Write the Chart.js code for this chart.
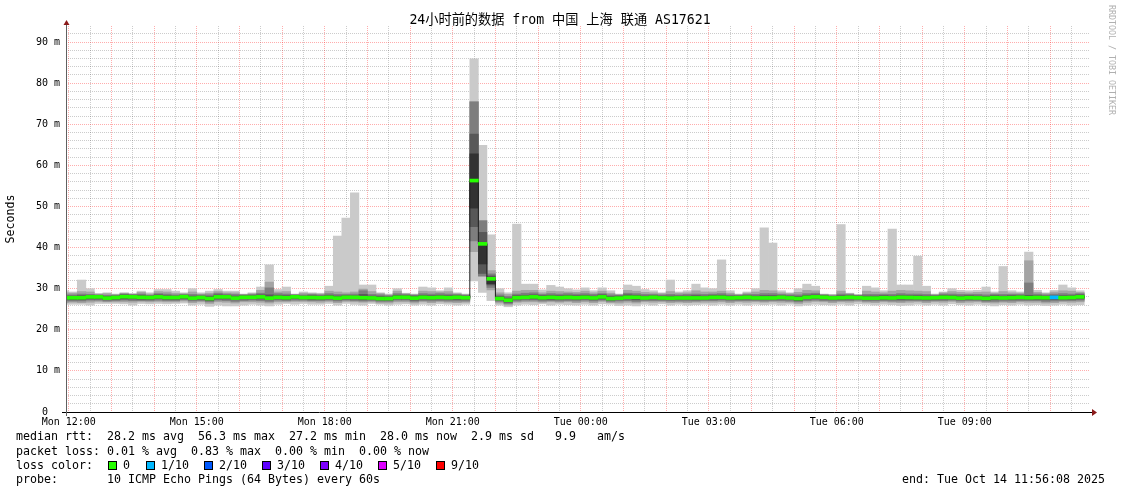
<!DOCTYPE html>
<html><head><meta charset="utf-8">
<script src="https://cdn.jsdelivr.net/npm/chart.js@4.4.1/dist/chart.umd.min.js"></script>
<style>
html,body{margin:0;padding:0;background:#fff;}
canvas{display:block;}
</style></head><body>
<canvas id="c" width="1121" height="494"></canvas>
<script>
// ---------- text / labels ----------
const TITLE = '24小时前的数据 from 中国 上海 联通 AS17621';
const Y_TITLE = 'Seconds';
const WATERMARK = 'RRDTOOL / TOBI OETIKER';
const xTickMinutes = [0, 180, 360, 540, 720, 900, 1080, 1260];
const xTickLabels = ['Mon 12:00','Mon 15:00','Mon 18:00','Mon 21:00','Tue 00:00','Tue 03:00','Tue 06:00','Tue 09:00'];
const yTickValues = [0, 10, 20, 30, 40, 50, 60, 70, 80, 90];
const yTickLabels = ['0  ','10 m','20 m','30 m','40 m','50 m','60 m','70 m','80 m','90 m'];
const legendRtt = 'median rtt:  28.2 ms avg  56.3 ms max  27.2 ms min  28.0 ms now  2.9 ms sd   9.9   am/s';
const legendLoss = 'packet loss: 0.01 % avg  0.83 % max  0.00 % min  0.00 % now';
const legendProbe = 'probe:       10 ICMP Echo Pings (64 Bytes) every 60s';
const legendEnd = 'end: Tue Oct 14 11:56:08 2025';
const lossLabels = ['0','1/10','2/10','3/10','4/10','5/10','9/10'];
const lossLevels = [0, 1, 2, 3, 4, 5, 9];
const lossColorList = ['#26ff00','#00b8ff','#0059ff','#5e00ff','#7e00ff','#dd00ff','#ff0000'];

// ---------- data: 120 slots of 12 minutes, first slot starts 11:48 Mon ----------
const SLOT_MIN = 12;
const FIRST_SLOT_START = -12; // minutes relative to Mon 12:00
const VIEW_START = -3.8667;   // 11:56:08
const VIEW_END = 1436.1333;   // 11:56:08 next day

// sorted pings per slot (ms): pingMin = 1st, ping2 .. ping9, pingMax = 10th
const pingMin = [
26.2,26.2,26.2,26.0,26.4,26.4,26.4,26.3,26.0,26.4,
26.3,26.4,26.3,26.4,26.5,26.0,26.2,25.7,26.0,25.8,
25.8,26.0,26.2,26.0,25.8,26.2,26.4,26.2,26.4,26.2,
26.2,26.4,26.0,26.4,26.2,26.0,26.4,26.2,26.0,26.2,
26.3,26.0,26.2,26.0,26.3,26.2,26.0,26.2,31.9,29.1,
27.1,26.0,25.6,26.0,26.2,26.1,26.3,26.0,26.2,26.1,
26.0,26.2,26.0,26.3,26.2,25.9,26.0,25.8,26.2,26.0,
26.3,26.0,26.2,26.0,26.1,26.2,26.0,26.2,26.0,26.2,
26.0,26.2,26.1,26.2,26.0,26.2,25.8,26.0,26.2,26.1,
26.0,26.2,26.0,26.3,26.2,26.0,26.2,26.1,25.9,26.0,
26.2,26.0,26.2,26.0,26.3,26.1,26.0,26.2,26.0,25.8,
26.1,26.0,26.2,26.0,26.1,25.9,26.0,26.2,26.0,26.1];
const ping2 = [
26.6,26.7,26.6,26.7,26.9,26.8,26.8,26.8,26.7,26.9,
26.8,26.9,26.8,26.8,27.0,26.6,26.8,26.4,26.8,26.7,
26.5,26.8,26.8,26.7,26.5,26.8,26.8,26.9,26.9,26.8,
26.7,26.9,26.6,26.9,26.8,26.7,26.8,26.5,26.5,26.8,
26.8,26.5,26.8,26.6,26.8,26.7,26.6,26.7,39.0,33.0,
29.7,26.5,26.0,26.7,26.8,26.8,26.7,26.8,26.7,26.8,
26.6,26.8,26.6,26.9,26.6,26.5,26.7,26.5,26.8,26.7,
26.8,26.6,26.7,26.6,26.7,26.7,26.7,26.8,26.6,26.8,
26.7,26.8,26.7,26.8,26.7,26.7,26.4,26.7,26.9,26.8,
26.6,26.8,26.7,26.9,26.7,26.6,26.8,26.7,26.6,26.7,
26.8,26.6,26.8,26.7,26.9,26.6,26.7,26.8,26.6,26.5,
26.7,26.6,26.8,26.7,26.7,26.5,26.6,26.8,26.7,26.8];
const ping3 = [
27.0,27.0,27.0,27.2,27.2,27.0,27.1,27.2,27.1,27.1,
27.1,27.2,27.1,27.1,27.3,27.0,27.1,26.8,27.2,27.1,
26.9,27.1,27.2,27.1,26.9,27.2,27.1,27.2,27.2,27.1,
27.1,27.2,27.0,27.2,27.1,27.0,27.1,26.9,26.9,27.2,
27.2,26.9,27.1,27.0,27.1,27.0,27.0,27.0,41.6,33.1,
30.3,26.9,26.4,27.0,27.2,27.2,27.0,27.1,27.0,27.1,
27.0,27.2,27.0,27.2,26.9,27.0,27.1,26.9,27.1,27.1,
27.1,27.0,27.0,27.0,27.0,27.1,27.1,27.2,27.0,27.1,
27.1,27.1,27.0,27.1,27.1,27.0,26.8,27.1,27.2,27.1,
27.0,27.1,27.1,27.2,27.0,27.0,27.1,27.0,27.0,27.1,
27.1,27.0,27.1,27.1,27.2,27.0,27.1,27.1,26.9,26.9,
27.0,27.0,27.1,27.1,27.1,26.9,27.0,27.1,27.1,27.2];
const ping4 = [
27.3,27.3,27.3,27.5,27.5,27.3,27.4,27.5,27.5,27.4,
27.4,27.6,27.4,27.4,27.6,27.3,27.4,27.1,27.5,27.5,
27.3,27.5,27.5,27.5,27.3,27.5,27.4,27.6,27.5,27.4,
27.4,27.5,27.3,27.5,27.5,27.3,27.4,27.2,27.2,27.5,
27.5,27.2,27.5,27.4,27.5,27.4,27.4,27.4,45.1,33.7,
30.9,27.2,26.7,27.4,27.5,27.5,27.4,27.4,27.4,27.5,
27.4,27.5,27.3,27.5,27.2,27.3,27.5,27.3,27.4,27.5,
27.4,27.3,27.4,27.4,27.3,27.4,27.5,27.5,27.4,27.4,
27.5,27.4,27.4,27.4,27.5,27.4,27.1,27.5,27.6,27.5,
27.4,27.4,27.5,27.5,27.3,27.3,27.4,27.4,27.4,27.4,
27.4,27.3,27.4,27.5,27.5,27.3,27.4,27.4,27.2,27.3,
27.4,27.4,27.5,27.4,27.4,27.3,27.4,27.4,27.4,27.5];
const ping5 = [
27.6,27.6,27.6,27.8,27.8,27.5,27.7,27.8,27.8,27.7,
27.7,27.8,27.7,27.7,27.9,27.5,27.7,27.4,27.8,27.8,
27.5,27.7,27.7,27.8,27.5,27.7,27.6,27.8,27.7,27.7,
27.6,27.7,27.5,27.7,27.7,27.6,27.6,27.4,27.4,27.7,
27.7,27.5,27.7,27.6,27.7,27.6,27.7,27.6,49.6,36.0,
31.2,27.4,27.0,27.6,27.7,27.8,27.6,27.7,27.6,27.7,
27.6,27.7,27.6,27.8,27.4,27.5,27.7,27.6,27.6,27.7,
27.6,27.5,27.6,27.6,27.6,27.6,27.7,27.7,27.6,27.6,
27.7,27.6,27.6,27.6,27.7,27.6,27.4,27.7,27.8,27.7,
27.6,27.6,27.7,27.6,27.5,27.5,27.6,27.6,27.7,27.7,
27.6,27.6,27.6,27.7,27.7,27.5,27.6,27.6,27.5,27.6,
27.6,27.6,27.7,27.6,27.7,27.6,27.7,27.6,27.7,27.8];
const ping6 = [
28.0,28.0,28.0,28.2,28.2,27.9,28.0,28.3,28.2,28.1,
28.0,28.2,28.0,28.0,28.2,27.9,28.0,27.8,28.2,28.2,
27.9,28.1,28.1,28.2,27.9,28.1,28.0,28.2,28.0,28.0,
28.0,28.1,27.9,28.1,28.1,28.0,27.9,27.8,27.8,28.1,
28.1,27.9,28.1,28.0,28.1,28.0,28.1,28.0,62.8,41.0,
32.4,27.8,27.4,28.0,28.1,28.2,28.0,28.1,28.0,28.1,
28.0,28.1,27.9,28.2,27.8,27.9,28.1,28.1,27.9,28.1,
27.9,27.9,27.9,27.9,27.9,27.9,28.1,28.1,27.9,28.0,
28.1,27.9,27.9,27.9,28.1,27.9,27.8,28.1,28.2,28.1,
27.9,28.0,28.1,28.0,27.9,27.9,28.0,27.9,28.1,28.0,
28.0,27.9,28.0,28.1,28.0,27.9,28.0,27.9,27.8,28.0,
27.9,28.0,28.1,28.0,28.0,28.0,28.1,28.0,28.0,28.2];
const ping7 = [
28.2,28.2,28.3,28.4,28.3,28.1,28.2,28.5,28.4,28.4,
28.2,28.5,28.3,28.2,28.4,28.2,28.2,28.1,28.5,28.4,
28.2,28.3,28.3,28.5,28.5,28.4,28.3,28.4,28.2,28.3,
28.2,28.4,28.2,28.3,28.3,28.6,28.2,28.1,28.0,28.4,
28.3,28.2,28.4,28.3,28.4,28.3,28.3,28.2,67.6,43.7,
33.1,28.1,27.7,28.3,28.4,28.5,28.3,28.4,28.3,28.4,
28.3,28.4,28.2,28.5,28.1,28.2,28.5,28.4,28.2,28.3,
28.2,28.2,28.2,28.2,28.3,28.2,28.4,28.4,28.2,28.2,
28.3,28.2,28.3,28.3,28.3,28.2,28.1,28.4,28.5,28.3,
28.1,28.3,28.3,28.2,28.2,28.2,28.3,28.2,28.4,28.3,
28.3,28.2,28.2,28.4,28.3,28.2,28.3,28.2,28.1,28.3,
28.2,28.3,28.3,28.4,28.3,28.2,28.3,28.3,28.3,28.5];
const ping8 = [
28.5,28.5,28.7,28.6,28.5,28.4,28.4,28.7,28.6,28.7,
28.4,28.8,28.7,28.5,28.6,28.6,28.5,28.5,28.9,28.7,
28.6,28.5,28.6,28.9,30.2,28.8,28.7,28.5,28.5,28.6,
28.5,28.8,28.6,28.6,28.7,29.5,28.6,28.5,28.3,28.8,
28.6,28.4,28.8,28.7,28.8,28.7,28.6,28.4,75.4,46.5,
33.6,28.5,28.1,28.7,28.9,29.0,28.6,28.8,28.7,28.8,
28.7,28.8,28.6,28.8,28.5,28.4,28.9,28.8,28.6,28.6,
28.5,28.6,28.5,28.6,28.7,28.6,28.7,28.8,28.5,28.4,
28.6,28.6,28.8,28.8,28.6,28.5,28.5,28.8,28.9,28.5,
28.3,28.7,28.6,28.4,28.6,28.6,28.6,28.6,28.8,28.7,
28.7,28.6,28.4,28.7,28.7,28.6,28.6,28.6,28.5,28.6,
28.6,28.6,28.6,31.4,28.7,28.5,28.7,28.8,28.7,28.8];
const ping9 = [
29.0,28.9,29.3,29.2,28.7,28.8,28.6,28.9,28.7,29.1,
28.7,29.3,29.2,28.9,28.8,29.2,28.7,28.9,29.3,29.0,
29.0,28.6,28.8,29.6,31.6,29.2,29.3,28.6,28.9,28.8,
28.7,29.4,29.2,29.0,29.2,29.9,29.3,28.8,28.5,29.4,
28.8,28.6,29.4,29.3,29.2,29.3,28.8,28.6,75.6,46.6,
34.4,29.0,28.6,29.4,29.6,29.6,29.0,29.4,29.3,29.2,
29.1,29.4,29.0,29.4,28.9,28.6,29.6,29.4,29.1,29.0,
28.8,29.3,28.9,29.0,29.5,29.2,29.2,29.4,28.9,28.6,
28.9,29.2,29.6,29.5,29.0,28.8,29.1,29.6,29.5,28.6,
28.5,29.4,28.8,28.5,29.4,29.2,29.0,29.4,29.6,29.5,
29.4,29.3,28.6,29.0,29.3,29.1,29.0,29.1,29.2,28.9,
29.3,29.0,28.9,36.8,29.1,28.8,29.2,29.5,29.4,29.1];
const pingMax = [
29.5,29.2,32.1,30.0,28.8,29.0,28.7,29.0,28.8,29.4,
29.0,29.8,29.8,29.4,29.0,30.0,29.0,29.4,29.8,29.4,
29.4,28.7,29.0,30.4,35.8,29.8,30.4,28.7,29.2,29.0,
28.9,30.6,42.8,47.2,53.3,30.9,30.9,29.0,28.7,30.0,
28.9,28.7,30.4,30.2,29.5,30.2,29.0,28.7,85.9,64.9,
43.1,30.0,29.0,45.7,31.1,31.1,29.7,30.8,30.4,30.0,
29.7,30.2,29.5,30.2,29.5,28.7,30.9,30.6,29.8,29.5,
29.0,32.1,29.2,29.5,31.1,30.2,30.0,37.0,29.5,28.7,
29.2,30.0,44.8,41.1,29.5,29.0,30.0,31.1,30.6,28.7,
28.6,45.6,28.9,28.5,30.6,30.2,29.5,44.5,30.9,30.9,
37.9,30.6,28.7,29.2,30.0,29.6,29.5,29.6,30.4,29.2,
35.4,29.5,29.2,38.9,29.6,29.0,29.6,30.9,30.2,29.5];
const medianRtt = [
27.8,27.8,27.8,28.0,28.0,27.7,27.85,28.05,28.0,27.9,
27.85,28.0,27.85,27.85,28.05,27.7,27.85,27.6,28.0,28.0,
27.7,27.9,27.9,28.0,27.7,27.9,27.8,28.0,27.85,27.85,
27.8,27.9,27.7,27.9,27.9,27.8,27.75,27.6,27.6,27.9,
27.9,27.7,27.9,27.8,27.9,27.8,27.9,27.8,56.3,40.9,
32.4,27.6,27.2,27.8,27.9,28.0,27.8,27.9,27.8,27.9,
27.8,27.9,27.75,28.0,27.6,27.7,27.9,27.9,27.75,27.9,
27.75,27.7,27.75,27.75,27.75,27.75,27.9,27.9,27.75,27.8,
27.9,27.75,27.75,27.75,27.9,27.75,27.6,27.9,28.0,27.9,
27.75,27.8,27.9,27.8,27.7,27.7,27.8,27.75,27.9,27.85,
27.8,27.75,27.8,27.9,27.85,27.7,27.8,27.75,27.65,27.8,
27.75,27.8,27.9,27.8,27.85,27.8,27.9,27.8,27.85,28.0];
// lost pings out of 10 per slot
const lossCount = [
0,0,0,0,0,0,0,0,0,0, 0,0,0,0,0,0,0,0,0,0,
0,0,0,0,0,0,0,0,0,0, 0,0,0,0,0,0,0,0,0,0,
0,0,0,0,0,0,0,0,0,0, 0,0,0,0,0,0,0,0,0,0,
0,0,0,0,0,0,0,0,0,0, 0,0,0,0,0,0,0,0,0,0,
0,0,0,0,0,0,0,0,0,0, 0,0,0,0,0,0,0,0,0,0,
0,0,0,0,0,0,0,0,0,0, 0,0,0,0,0,0,1,0,0,0];

// ---------- build ----------
const FONT = '"DejaVu Sans Mono", "Noto Sans CJK SC", monospace';
const N = medianRtt.length;
const slotStart = i => FIRST_SLOT_START + i * SLOT_MIN;
const slotCenter = i => slotStart(i) + SLOT_MIN / 2;
const lossColor = n => lossColorList[lossLevels.indexOf(n)] || '#ff0000';

const bandLows  = [pingMin, ping2, ping3, ping4, ping5];
const bandHighs = [pingMax, ping9, ping8, ping7, ping6];
const bandColors = ['#cacaca', '#a4a4a4', '#7e7e7e', '#585858', '#323232'];
const MEDIAN_HALF = 0.365; // half thickness of the median marker in ms (3px)

const datasets = [];
bandLows.forEach((lows, b) => {
  datasets.push({
    type: 'bar',
    data: lows.map((lo, i) => ({ x: slotCenter(i), y: [lo, bandHighs[b][i]] })),
    backgroundColor: bandColors[b],
    borderWidth: 0,
    grouped: false,
    barPercentage: 1,
    categoryPercentage: 1,
    order: 10 - b
  });
});
const medLine = medianRtt.map((m, i) => ({ x: slotStart(i), y: m }));
medLine.push({ x: slotStart(N), y: medianRtt[N - 1] });
datasets.push({
  type: 'line', data: medLine, stepped: 'before', borderColor: '#202020',
  borderWidth: 1, pointRadius: 0, fill: false, order: 2
});
datasets.push({
  type: 'bar',
  data: medianRtt.map((m, i) => ({ x: slotCenter(i), y: [m - MEDIAN_HALF, m + MEDIAN_HALF] })),
  backgroundColor: lossCount.map(lossColor),
  borderWidth: 0, grouped: false, barPercentage: 1, categoryPercentage: 1, order: 0
});

const RED = 'rgba(255,0,0,0.32)';
const GRAY = 'rgba(0,0,0,0.2)';
const xGrid = []; for (let m = 0; m < VIEW_END; m += 30) xGrid.push(m);
const yGrid = []; for (let v = 0; v <= 92; v += 2) yGrid.push(v);

const decor = {
  id: 'decor',
  afterDraw(chart) {
    const ctx = chart.ctx, a = chart.chartArea;
    ctx.save();
    // axes
    ctx.strokeStyle = '#000'; ctx.lineWidth = 1;
    ctx.beginPath(); ctx.moveTo(62, a.bottom + 0.5); ctx.lineTo(a.right + 2, a.bottom + 0.5); ctx.stroke();
    ctx.strokeStyle = '#606060';
    ctx.beginPath(); ctx.moveTo(a.left + 0.5, a.bottom + 4); ctx.lineTo(a.left + 0.5, a.top - 2); ctx.stroke();
    ctx.fillStyle = '#8b1a1a';
    ctx.beginPath(); ctx.moveTo(a.right + 2, a.bottom - 3); ctx.lineTo(a.right + 7, a.bottom + 0.5); ctx.lineTo(a.right + 2, a.bottom + 4); ctx.closePath(); ctx.fill();
    ctx.beginPath(); ctx.moveTo(a.left - 2.5, a.top - 1); ctx.lineTo(a.left + 0.5, a.top - 6); ctx.lineTo(a.left + 3.5, a.top - 1); ctx.closePath(); ctx.fill();
    // title
    ctx.fillStyle = '#000';
    ctx.font = '13.2px ' + FONT; ctx.textAlign = 'center'; ctx.textBaseline = 'middle';
    ctx.fillText(TITLE, 560, 21);
    // y title
    ctx.save(); ctx.translate(11, 219); ctx.rotate(-Math.PI / 2);
    ctx.font = '11.6px ' + FONT; ctx.fillText(Y_TITLE, 0, 0); ctx.restore();
    // watermark
    ctx.save(); ctx.translate(1111, 5); ctx.rotate(Math.PI / 2);
    ctx.font = '8.3px ' + FONT; ctx.fillStyle = '#b0b0b0'; ctx.textAlign = 'left';
    ctx.fillText(WATERMARK, 0, 0); ctx.restore();
    // legend
    ctx.font = '11.63px ' + FONT; ctx.textAlign = 'left'; ctx.fillStyle = '#000';
    ctx.fillText(legendRtt, 16, 437);
    ctx.fillText(legendLoss, 16, 452);
    ctx.fillText('loss color:', 16, 466);
    const boxX = [108, 146, 204, 262, 320, 378, 436];
    lossLabels.forEach((lab, i) => {
      ctx.fillStyle = lossColorList[i];
      ctx.fillRect(boxX[i], 461, 9, 9);
      ctx.strokeStyle = '#000'; ctx.strokeRect(boxX[i] + 0.5, 461.5, 8, 8);
      ctx.fillStyle = '#000';
      ctx.fillText(lab, boxX[i] + 15, 466);
    });
    ctx.fillText(legendProbe, 16, 480);
    ctx.textAlign = 'right';
    ctx.fillText(legendEnd, 1105, 480);
    ctx.restore();
  }
};

new Chart(document.getElementById('c'), {
  type: 'bar',
  data: { datasets },
  options: {
    responsive: false, animation: false, devicePixelRatio: 1,
    layout: { padding: { top: 26, right: 31, left: 0, bottom: 0 } },
    plugins: { legend: { display: false }, tooltip: { enabled: false }, title: { display: false } },
    scales: {
      x: {
        type: 'linear', min: VIEW_START, max: VIEW_END, offset: false,
        afterBuildTicks(axis) { axis.ticks = xGrid.map(v => ({ value: v })); },
        afterFit(axis) { axis.height = 82; },
        grid: { offset: false, color: c => (c.tick && c.tick.value % 60 === 0) ? RED : GRAY, lineWidth: 1, drawTicks: false },
        border: { display: false, dash: [1, 1] },
        ticks: {
          autoSkip: false, maxRotation: 0, padding: 4, color: '#000',
          font: { family: FONT, size: 10 },
          callback: v => { const i = xTickMinutes.indexOf(v); return i >= 0 ? xTickLabels[i] : ''; }
        }
      },
      y: {
        type: 'linear', min: 0, max: 93.9,
        afterBuildTicks(axis) { axis.ticks = yGrid.map(v => ({ value: v })); },
        afterFit(axis) { axis.width = 66; },
        grid: { color: c => (c.tick && c.tick.value % 10 === 0) ? RED : GRAY, lineWidth: 1, drawTicks: false },
        border: { display: false, dash: [1, 1] },
        ticks: {
          autoSkip: false, padding: 6, color: '#000',
          font: { family: FONT, size: 10 },
          callback: v => { const i = yTickValues.indexOf(v); return i >= 0 ? yTickLabels[i] : ''; }
        }
      }
    }
  },
  plugins: [decor]
});
</script></body></html>
